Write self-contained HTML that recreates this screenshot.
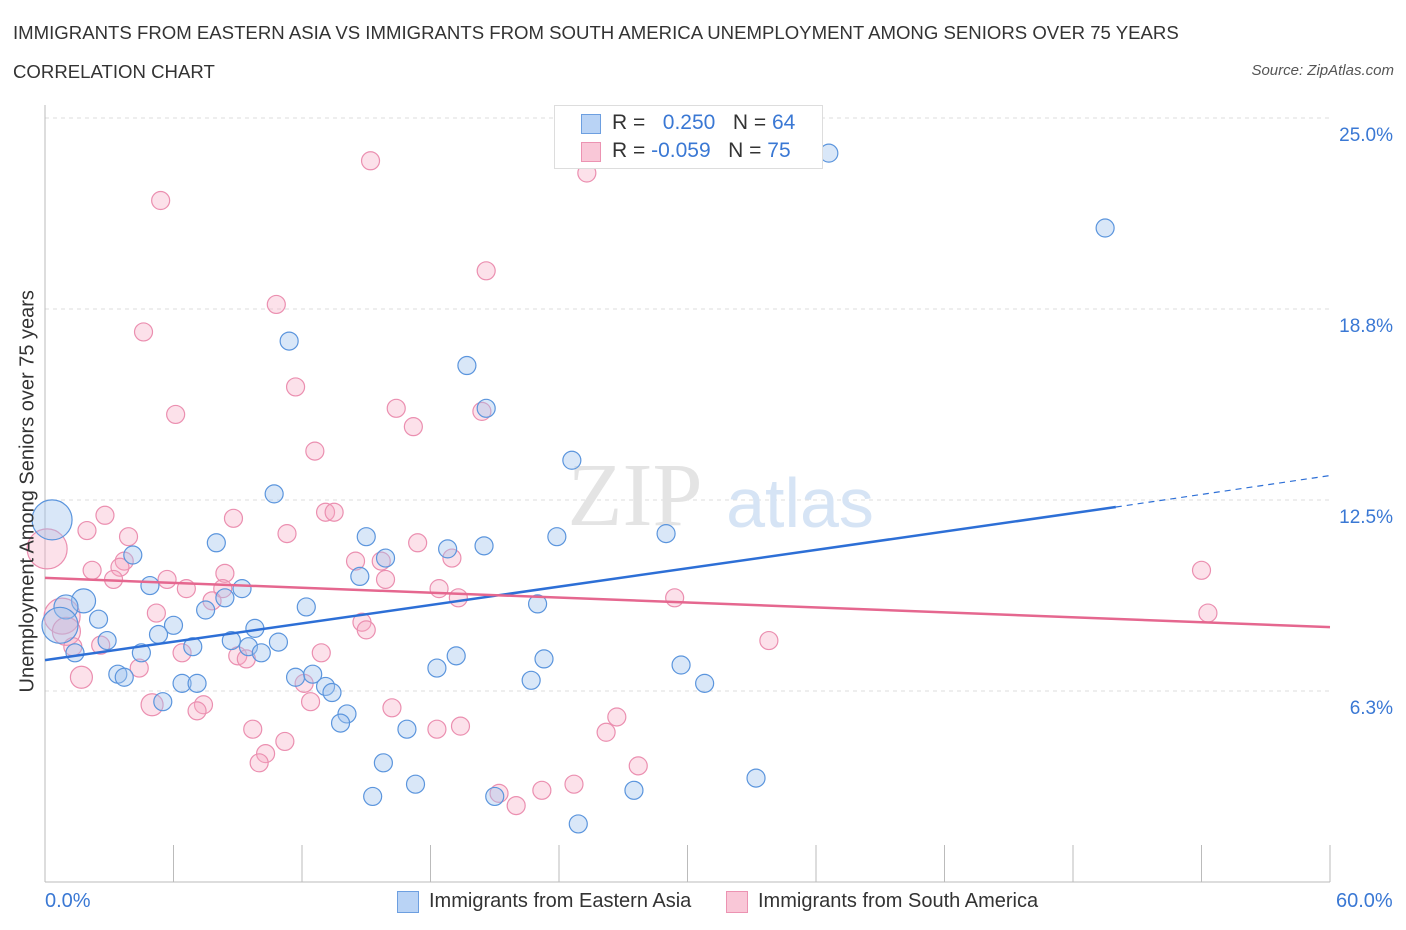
<!DOCTYPE html>
<html><head><meta charset="utf-8"><style>
body{margin:0;background:#fff;font-family:"Liberation Sans",sans-serif;}
.t{position:absolute;color:#333;font-size:20px;}
</style></head><body>
<div style="position:relative;width:1406px;height:930px;overflow:hidden">
<div class="t" style="left:13px;top:22px;font-size:18.6px">IMMIGRANTS FROM EASTERN ASIA VS IMMIGRANTS FROM SOUTH AMERICA UNEMPLOYMENT AMONG SENIORS OVER 75 YEARS</div>
<div class="t" style="left:13px;top:61px;font-size:18.6px">CORRELATION CHART</div>
<div class="t" style="right:12px;top:62px;font-size:15px;font-style:italic;color:#555">Source: ZipAtlas.com</div>
<svg id="svg" width="1406" height="930" style="position:absolute;left:0;top:0"></svg>
</div>
<script>
const xTicks=[0,6,12,18,24,30,36,42,48,54,60];
const yTicks=[6.25,12.5,18.75,25];
const yTickLabels=["6.3%","12.5%","18.8%","25.0%"];
const blueX=[36.6,49.5,11.4,19.7,20.6,24.6,10.7,8.0,15.0,15.9,18.8,20.5,23.9,29.0,4.1,4.9,9.2,8.4,14.7,12.2,23.0,7.5,1.8,0.98,2.5,6.0,5.3,2.9,8.7,9.8,10.9,9.5,6.9,10.1,4.5,1.4,19.2,23.3,18.3,29.7,3.4,3.7,11.7,12.5,6.4,7.1,13.1,13.4,22.7,30.8,5.5,14.1,13.8,16.9,15.8,17.3,15.3,21.0,27.5,33.2,24.9,0.33,0.7];
const blueY=[23.85,21.4,17.7,16.9,15.5,13.8,12.7,11.1,11.3,10.6,10.9,11.0,11.3,11.4,10.7,9.7,9.6,9.3,10.0,9.0,9.1,8.9,9.2,9.0,8.6,8.4,8.1,7.9,7.9,8.3,7.85,7.7,7.7,7.5,7.5,7.5,7.4,7.3,7.0,7.1,6.8,6.7,6.7,6.8,6.5,6.5,6.4,6.2,6.6,6.5,5.9,5.5,5.2,5.0,3.9,3.2,2.8,2.8,3.0,3.4,1.9,11.85,8.4];
const blueR=[9,9,9,9,9,9,9,9,9,9,9,9,9,9,9,9,9,9,9,9,9,9,12,12,9,9,9,9,9,9,9,9,9,9,9,9,9,9,9,9,9,9,9,9,9,9,9,9,9,9,9,9,9,9,9,9,9,9,9,9,9,20,18];
const pinkX=[15.2,25.3,5.4,20.6,10.8,4.6,11.7,6.1,16.4,20.4,17.2,12.6,13.1,13.5,8.8,2.8,1.96,11.3,3.9,17.4,19.0,14.5,15.7,3.7,3.5,2.2,8.4,15.9,5.7,3.2,6.6,8.3,18.4,19.3,7.8,29.4,54.0,54.3,5.2,14.8,15.0,33.8,2.6,12.9,6.4,9.0,9.4,4.4,12.1,1.7,12.4,16.2,5.0,7.4,7.1,26.7,19.4,18.3,26.2,9.7,11.2,10.3,10.0,27.7,24.7,23.2,21.2,22.0,0.1,0.8,1.0,1.3];
const pinkY=[23.6,23.2,22.3,20.0,18.9,18.0,16.2,15.3,15.5,15.4,14.9,14.1,12.1,12.1,11.9,12.0,11.5,11.4,11.3,11.1,10.6,10.5,10.5,10.5,10.3,10.2,10.1,9.9,9.9,9.9,9.6,9.6,9.6,9.3,9.2,9.3,10.2,8.8,8.8,8.5,8.25,7.9,7.75,7.5,7.5,7.4,7.3,7.0,6.5,6.7,5.9,5.7,5.8,5.8,5.6,5.4,5.1,5.0,4.9,5.0,4.6,4.2,3.9,3.8,3.2,3.0,2.9,2.5,10.9,8.7,8.2,7.7];
const pinkR=[9,9,9,9,9,9,9,9,9,9,9,9,9,9,9,9,9,9,9,9,9,9,9,9,9,9,9,9,9,9,9,9,9,9,9,9,9,9,9,9,9,9,9,9,9,9,9,9,9,11,9,9,11,9,9,9,9,9,9,9,9,9,9,9,9,9,9,9,20,18,14,9];
const blueLine=[[0,7.26],[50,12.27]], blueDash=[[50,12.27],[60,13.3]];
const pinkLine=[[0,9.95],[60,8.34]];
const X=v=>45+v/60*1285, Y=v=>882-v/25*764;
const svg=document.getElementById('svg');const NS='http://www.w3.org/2000/svg';
function mk(tag,a,name){const e=document.createElementNS(NS,tag);for(const k in a)e.setAttribute(k,a[k]);


svg.appendChild(e);return e;}
yTicks.forEach((t,i)=>{mk('line',{x1:45,x2:1330,y1:Y(t),y2:Y(t),stroke:'#ddd','stroke-dasharray':'4,4'},'gridline');
const tx=mk('text',{x:1393,y:Y(t)+23,'text-anchor':'end','font-size':19,fill:'#3a78d4','font-family':'Liberation Sans'},'y-tick-label');tx.textContent=yTickLabels[i];});
mk('line',{x1:45,x2:45,y1:105,y2:882,stroke:'#bbb'},'y-axis');
mk('line',{x1:45,x2:1330,y1:882,y2:882,stroke:'#bbb'},'x-axis');
xTicks.forEach(t=>{if(t>0)mk('line',{x1:X(t),x2:X(t),y1:845,y2:882,stroke:'#bbb'},'x-tick');});
let wm=mk('text',{x:635,y:525,'text-anchor':'middle','font-size':90,fill:'#e4e4e4','font-family':'Liberation Serif'},'watermark');wm.textContent='ZIP';
wm=mk('text',{x:800,y:527,'text-anchor':'middle','font-size':70,fill:'#d6e4f5','font-family':'Liberation Sans'},'watermark-atlas');wm.textContent='atlas';
pinkX.forEach((v,i)=>mk('circle',{cx:X(v),cy:Y(pinkY[i]),r:pinkR[i],fill:'rgba(246,170,195,0.35)',stroke:'#eb8fb0','stroke-width':1.2},'pink-point'));
blueX.forEach((v,i)=>mk('circle',{cx:X(v),cy:Y(blueY[i]),r:blueR[i],fill:'rgba(160,196,238,0.4)',stroke:'#5b95dd','stroke-width':1.2},'blue-point'));
mk('line',{x1:X(blueLine[0][0]),y1:Y(blueLine[0][1]),x2:X(blueLine[1][0]),y2:Y(blueLine[1][1]),stroke:'#2d6fd6','stroke-width':2.5},'blue-trend-line');
mk('line',{x1:X(blueDash[0][0]),y1:Y(blueDash[0][1]),x2:X(blueDash[1][0]),y2:Y(blueDash[1][1]),stroke:'#2d6fd6','stroke-width':1.2,'stroke-dasharray':'6,5'},'blue-trend-extension');
mk('line',{x1:X(pinkLine[0][0]),y1:Y(pinkLine[0][1]),x2:X(pinkLine[1][0]),y2:Y(pinkLine[1][1]),stroke:'#e5678f','stroke-width':2.5},'pink-trend-line');
</script>
<div style="position:absolute;left:554px;top:105px;width:267px;height:62px;border:1px solid #ddd;background:#fff">
<div style="position:absolute;left:26px;top:8px;width:18px;height:18px;background:#b9d3f5;border:1px solid #6d9fe0"></div>
<div style="position:absolute;left:26px;top:36px;width:18px;height:18px;background:#f9c7d7;border:1px solid #ec93b2"></div>
<div class="t" style="left:57px;top:5px;font-size:21px;white-space:nowrap">R = <span style="color:#3a78d4">&nbsp;&nbsp;0.250</span>&nbsp;&nbsp;&nbsp;N = <span style="color:#3a78d4">64</span></div>
<div class="t" style="left:57px;top:33px;font-size:21px;white-space:nowrap">R = <span style="color:#3a78d4">-0.059</span>&nbsp;&nbsp;&nbsp;N = <span style="color:#3a78d4">75</span></div>
</div>
<div class="t" style="left:45px;top:890px;color:#3a78d4">0.0%</div>
<div class="t" style="left:1336px;top:890px;color:#3a78d4">60.0%</div>
<div style="position:absolute;left:397px;top:891px;width:20px;height:20px;background:#b9d3f5;border:1px solid #6d9fe0"></div>
<div class="t" style="left:429px;top:890px">Immigrants from Eastern Asia</div>
<div style="position:absolute;left:726px;top:891px;width:20px;height:20px;background:#f9c7d7;border:1px solid #ec93b2"></div>
<div class="t" style="left:758px;top:890px">Immigrants from South America</div>
<div class="t" style="left:-172px;top:481px;transform:rotate(-90deg);width:400px;text-align:center;white-space:nowrap">Unemployment Among Seniors over 75 years</div>
</body></html>
